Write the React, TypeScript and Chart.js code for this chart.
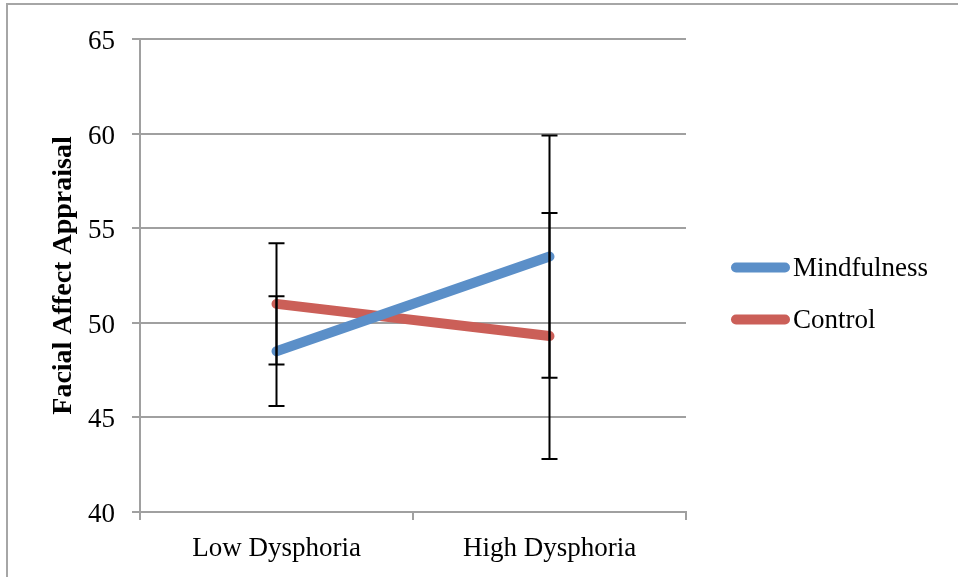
import React, { useEffect, useRef } from "react";
import { Chart, registerables } from "chart.js";

Chart.register(...registerables);

const categories = ["Low Dysphoria", "High Dysphoria"];
const mindfulness = [48.5, 53.5];
const mindfulnessErr = [2.9, 6.4];
const control = [51.0, 49.3];
const controlErr = [3.2, 6.5];
const yTicks = [40, 45, 50, 55, 60, 65];

const BLUE = "#5B8FC8";
const RED = "#CB5F58";
const GRID = "#A0A0A0";
const FONT = "'Liberation Serif', 'Times New Roman', serif";

const errorBarPlugin = {
  id: "errorBars",
  afterDatasetsDraw(chart: any) {
    const ctx = chart.ctx;
    const xs = chart.scales.x;
    const ys = chart.scales.y;
    chart.data.datasets.forEach((ds: any) => {
      const errs: number[] = ds.errors || [];
      ds.data.forEach((v: number, i: number) => {
        const e = errs[i];
        if (e == null) return;
        const x = xs.getPixelForValue(i);
        const yT = ys.getPixelForValue(v + e);
        const yB = ys.getPixelForValue(v - e);
        ctx.save();
        ctx.strokeStyle = "#000";
        ctx.lineWidth = 2;
        ctx.beginPath();
        ctx.moveTo(x, yT);
        ctx.lineTo(x, yB);
        ctx.moveTo(x - 8, yT);
        ctx.lineTo(x + 8, yT);
        ctx.moveTo(x - 8, yB);
        ctx.lineTo(x + 8, yB);
        ctx.stroke();
        ctx.restore();
      });
    });
  },
};

const legendPlugin = {
  id: "customLegend",
  afterDraw(chart: any) {
    const ctx = chart.ctx;
    const area = chart.chartArea;
    const x0 = area.right + 50;
    chart.data.datasets.forEach((ds: any, i: number) => {
      const y = chart.height / 2 - 21 + i * 52;
      ctx.save();
      ctx.strokeStyle = ds.borderColor;
      ctx.lineWidth = 10;
      ctx.lineCap = "round";
      ctx.beginPath();
      ctx.moveTo(x0, y);
      ctx.lineTo(x0 + 49, y);
      ctx.stroke();
      ctx.fillStyle = "#000";
      ctx.font = "27px " + FONT;
      ctx.textAlign = "left";
      ctx.textBaseline = "middle";
      ctx.fillText(ds.label, x0 + 57, y + 1);
      ctx.restore();
    });
  },
};

export default function App() {
  const ref = useRef<HTMLCanvasElement | null>(null);

  useEffect(() => {
    if (!ref.current) return;
    const chart = new Chart(ref.current, {
      type: "line",
      data: {
        labels: categories,
        datasets: [
          {
            label: "Mindfulness",
            data: mindfulness,
            errors: mindfulnessErr,
            borderColor: BLUE,
            backgroundColor: BLUE,
            borderWidth: 10,
            borderCapStyle: "round",
            pointRadius: 0,
            tension: 0,
          } as any,
          {
            label: "Control",
            data: control,
            errors: controlErr,
            borderColor: RED,
            backgroundColor: RED,
            borderWidth: 10,
            borderCapStyle: "round",
            pointRadius: 0,
            tension: 0,
          } as any,
        ],
      },
      options: {
        responsive: false,
        animation: false,
        layout: { padding: { left: 0, top: 39, right: 272, bottom: 0 } },
        plugins: {
          legend: { display: false },
          tooltip: { enabled: false },
        },
        scales: {
          x: {
            type: "category",
            offset: true,
            grid: {
              display: true,
              offset: true,
              drawOnChartArea: false,
              drawTicks: true,
              tickLength: 8,
              color: GRID,
              lineWidth: 2,
            },
            border: { display: true, color: GRID, width: 2 },
            ticks: {
              color: "#000",
              font: { family: FONT, size: 27 },
              padding: 13,
              maxRotation: 0,
            },
            afterFit(scale: any) {
              scale.height = 65;
            },
          },
          y: {
            min: 40,
            max: 65,
            afterBuildTicks(scale: any) {
              scale.ticks = yTicks.map((v) => ({ value: v }));
            },
            grid: {
              color: GRID,
              lineWidth: 2,
              tickLength: 8,
            },
            border: { display: true, color: GRID, width: 2 },
            ticks: {
              color: "#000",
              font: { family: FONT, size: 27 },
              padding: 17,
              labelOffset: 3,
            },
            title: {
              display: true,
              text: "Facial Affect Appraisal",
              color: "#000",
              font: { family: FONT, size: 28, weight: "bold" },
              padding: { top: 47, bottom: 0 },
            },
            afterFit(scale: any) {
              scale.width = 140;
            },
          },
        },
      },
      plugins: [errorBarPlugin, legendPlugin],
    });
    return () => chart.destroy();
  }, []);

  return (
    <div style={{ position: "fixed", left: 0, top: 0, width: 958, height: 577, background: "#fff" }}>
      <canvas ref={ref} width={958} height={577} style={{ position: "absolute", left: 0, top: 0 }} />
      <div
        style={{
          position: "absolute",
          left: 6,
          top: 3,
          width: 960,
          height: 580,
          borderTop: "2px solid #A6A6A6",
          borderLeft: "2px solid #A6A6A6",
          pointerEvents: "none",
        }}
      />
    </div>
  );
}
